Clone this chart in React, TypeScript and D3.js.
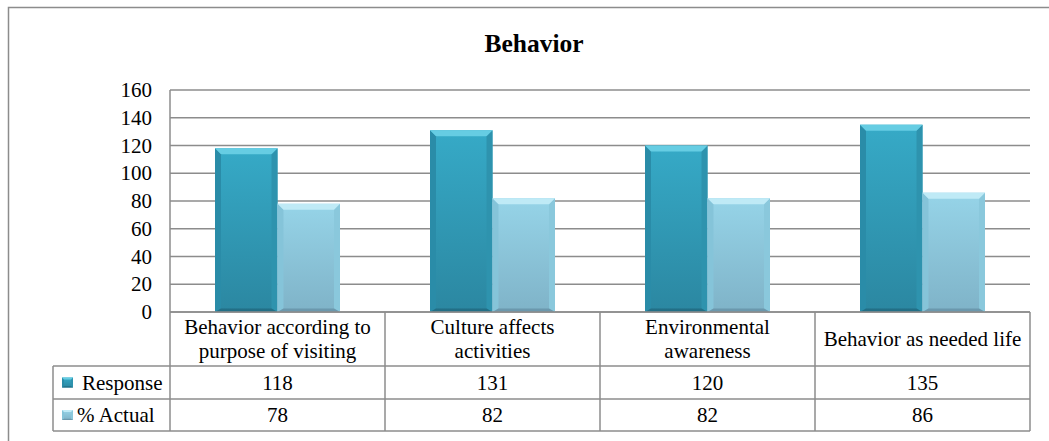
import React from 'react';
import * as d3 from 'd3';

const categories = [
  ['Behavior according to', 'purpose of visiting'],
  ['Culture affects', 'activities'],
  ['Environmental', 'awareness'],
  ['Behavior as needed life'],
];
const seriesNames = ['Response', '% Actual'];
const responseValues = [118, 131, 120, 135];
const actualValues = [78, 82, 82, 86];
const yTicks = [0, 20, 40, 60, 80, 100, 120, 140, 160];

const W = 1049;
const H = 441;
const plotLeft = 170;
const plotRight = 1030;
const plotTop = 90;
const plotBottom = 312;
const tableLeft = 53;
const rowLines = [312, 366, 399, 431];
const FONT = 'Liberation Serif';
const FS = 21;

// facet colours for the two bevelled series
const palettes = [
  { top: '#66cde3', bodyA: '#36aac7', bodyB: '#2b87a1', left: '#2a8ca8', right: '#2e93ae', bottom: '#226f86' },
  { top: '#bfeaf6', bodyA: '#96d4e8', bodyB: '#7fb3c8', left: '#85c4d9', right: '#8ac8dc', bottom: '#6b98ad' },
];

const x = d3.scaleBand<number>().domain(d3.range(categories.length)).range([plotLeft, plotRight]).paddingInner(0).paddingOuter(0);
const xInner = d3.scaleBand<number>().domain([0, 1]).range([0, x.bandwidth()]).paddingInner(0).paddingOuter(0.72);
const y = d3.scaleLinear().domain([0, 160]).range([plotBottom, plotTop]);

const Bevel: React.FC<{ x0: number; y0: number; w: number; h: number; s: number; series: number }> = ({ x0, y0, w, h, s, series }) => {
  const p = palettes[series];
  const b = Math.min(s, w / 3, h / 3);
  const x1 = x0 + w;
  const y1 = y0 + h;
  const bb = b * 0.6;
  const pts = (a: number[][]) => a.map(q => q.join(',')).join(' ');
  return (
    <g>
      <rect x={x0} y={y0} width={w} height={h} fill={`url(#body${series})`} />
      <polygon points={pts([[x0, y0], [x0 + b, y0 + b], [x0 + b, y1 - bb], [x0, y1]])} fill={p.left} />
      <polygon points={pts([[x1, y0], [x1 - b, y0 + b], [x1 - b, y1 - bb], [x1, y1]])} fill={p.right} />
      <polygon points={pts([[x0, y1], [x0 + b, y1 - bb], [x1 - b, y1 - bb], [x1, y1]])} fill={p.bottom} />
      <polygon points={pts([[x0, y0], [x1, y0], [x1 - b, y0 + b], [x0 + b, y0 + b]])} fill={p.top} />
    </g>
  );
};

export default function App() {
  const series = [responseValues, actualValues];
  const colLines = [plotLeft, ...categories.map((_, i) => (x(i) as number) + x.bandwidth())];

  return (
    <svg width={W} height={H} style={{ position: 'absolute', left: 0, top: 0, background: '#fff' }}>
      <defs>
        {palettes.map((p, i) => (
          <linearGradient key={i} id={`body${i}`} x1="0" y1="0" x2="0" y2="1">
            <stop offset="0%" stopColor={p.bodyA} />
            <stop offset="100%" stopColor={p.bodyB} />
          </linearGradient>
        ))}
      </defs>

      {/* outer frame, runs off the right and bottom */}
      <rect x={8.5} y={7.5} width={1100} height={500} fill="none" stroke="#8c8c8c" strokeWidth={1.5} />

      <text x={534} y={52} textAnchor="middle" fontSize={25.5} fontWeight="bold" fill="#000" fontFamily={FONT}>Behavior</text>

      {/* gridlines */}
      {yTicks.map(t => (
        <line key={t} x1={plotLeft} x2={plotRight} y1={y(t)} y2={y(t)} stroke="#8c8c8c" strokeWidth={1.5} />
      ))}
      <line x1={plotLeft} x2={plotLeft} y1={plotTop} y2={plotBottom} stroke="#8c8c8c" strokeWidth={1.5} />

      {yTicks.map(t => (
        <text key={t} x={152} y={y(t)} dy="0.34em" textAnchor="end" fontSize={FS} fill="#000" fontFamily={FONT}>{t}</text>
      ))}

      {/* bars */}
      {series.map((vals, si) =>
        vals.map((v, ci) => {
          const bx = (x(ci) as number) + (xInner(si) as number);
          return (
            <Bevel key={`${si}-${ci}`} x0={bx} y0={y(v)} w={xInner.bandwidth()} h={plotBottom - y(v)} s={6} series={si} />
          );
        })
      )}

      {/* data table */}
      <g stroke="#8c8c8c" strokeWidth={1.5} fill="none">
        <line x1={plotLeft} x2={plotRight} y1={rowLines[0]} y2={rowLines[0]} />
        {rowLines.slice(1).map(r => (
          <line key={r} x1={tableLeft} x2={plotRight} y1={r} y2={r} />
        ))}
        <line x1={tableLeft} x2={tableLeft} y1={rowLines[1]} y2={rowLines[3]} />
        {colLines.map(c => (
          <line key={c} x1={c} x2={c} y1={rowLines[0]} y2={rowLines[3]} />
        ))}
      </g>

      {categories.map((lines, ci) => {
        const cx = (x(ci) as number) + x.bandwidth() / 2;
        const mid = (rowLines[0] + rowLines[1]) / 2;
        const lh = 24;
        return lines.map((ln, li) => (
          <text key={`${ci}-${li}`} x={cx} y={mid + (li - (lines.length - 1) / 2) * lh} dy="0.34em" textAnchor="middle" fontSize={FS} fill="#000" fontFamily={FONT}>{ln}</text>
        ));
      })}

      {series.map((vals, si) => {
        const mid = (rowLines[si + 1] + rowLines[si + 2]) / 2;
        return (
          <g key={si}>
            <Bevel x0={62} y0={mid - 5} w={11} h={10} s={2} series={si} />
            <text x={si === 0 ? 82 : 77} y={mid} dy="0.34em" fontSize={FS} fill="#000" fontFamily={FONT}>{seriesNames[si]}</text>
            {vals.map((v, ci) => (
              <text key={ci} x={(x(ci) as number) + x.bandwidth() / 2} y={mid} dy="0.34em" textAnchor="middle" fontSize={FS} fill="#000" fontFamily={FONT}>{v}</text>
            ))}
          </g>
        );
      })}
    </svg>
  );
}
